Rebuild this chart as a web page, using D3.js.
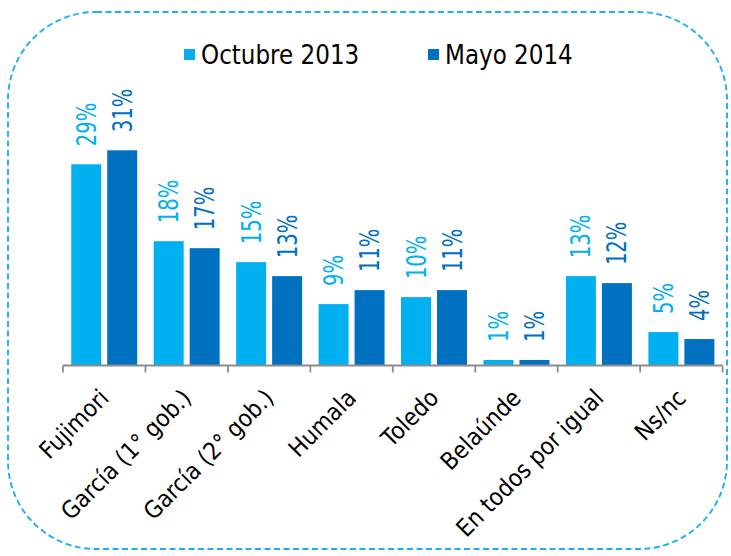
<!DOCTYPE html>
<html>
<head>
<meta charset="utf-8">
<script src="https://cdn.jsdelivr.net/npm/d3@7"></script>
<style>
  html, body { margin: 0; padding: 0; background: #ffffff; }
  svg { display: block; }
  text { font-family: "DejaVu Sans", Verdana, sans-serif; }
</style>
</head>
<body>
<svg id="chart" width="731" height="556"></svg>
<script>
// Preferred government by period (percent)
const categories = ["Fujimori", "García (1° gob.)", "García (2° gob.)", "Humala", "Toledo", "Belaúnde", "En todos por igual", "Ns/nc"];
const seriesNames = ["Octubre 2013", "Mayo 2014"];
const octubre2013 = [29, 18, 15, 9, 10, 1, 13, 5];
const mayo2014 = [31, 17, 13, 11, 11, 1, 12, 4];
const seriesColors = ["#00b0f0", "#0070c0"];

const svg = d3.select("#chart");

// Dashed rounded frame around the chart
svg.append("rect")
  .attr("x", 8).attr("y", 12)
  .attr("width", 719).attr("height", 537)
  .attr("rx", 88).attr("ry", 88)
  .attr("fill", "none")
  .attr("stroke", "#1cb1ec")
  .attr("stroke-width", 1.9)
  .attr("stroke-dasharray", "6,3.5");

const axisY = 365.5;
const x0 = d3.scaleBand().domain(categories).range([63, 722.6]).paddingInner(0).paddingOuter(0);
const x1 = d3.scaleBand().domain(seriesNames).range([0, x0.bandwidth()]).paddingInner(0.1667).paddingOuter(0.229);
const y = d3.scaleLinear().domain([0, 35]).range([367, 367 - 35 * 6.99]);

const rows = categories.map((c, i) => ({
  cat: c,
  values: [
    { s: seriesNames[0], v: octubre2013[i], color: seriesColors[0] },
    { s: seriesNames[1], v: mayo2014[i], color: seriesColors[1] }
  ]
}));

const groups = svg.append("g").selectAll("g")
  .data(rows).join("g")
  .attr("transform", d => `translate(${x0(d.cat)},0)`);

groups.selectAll("rect")
  .data(d => d.values).join("rect")
  .attr("x", d => x1(d.s))
  .attr("y", d => y(d.v))
  .attr("width", x1.bandwidth())
  .attr("height", d => axisY - y(d.v))
  .attr("fill", d => d.color);

// Rotated value labels above each bar
groups.selectAll("text.val")
  .data(d => d.values).join("text")
  .attr("class", "val")
  .attr("transform", d => `translate(${x1(d.s) + x1.bandwidth() / 2},${y(d.v) - 18}) rotate(-90) scale(0.74,1)`)
  .attr("dy", "0.36em")
  .attr("text-anchor", "start")
  .attr("font-size", 26.5)
  .attr("fill", d => d.color)
  .text(d => d.v + "%");

// Category axis: baseline, boundary ticks and slanted labels
const axis = svg.append("g").attr("transform", `translate(0,${axisY})`);
axis.append("line")
  .attr("x1", x0.range()[0]).attr("x2", x0.range()[1])
  .attr("y1", 0).attr("y2", 0)
  .attr("stroke", "#8c8c8c").attr("stroke-width", 1.8);

const edges = categories.map(c => x0(c)).concat([x0.range()[1]]);
axis.selectAll("line.tick")
  .data(edges).join("line")
  .attr("class", "tick")
  .attr("x1", d => d).attr("x2", d => d)
  .attr("y1", 0).attr("y2", 7)
  .attr("stroke", "#8c8c8c").attr("stroke-width", 1.8);

axis.selectAll("text.cat")
  .data(categories).join("text")
  .attr("class", "cat")
  .attr("transform", d => `translate(${x0(d) + x0.bandwidth() / 2 + 6},34) rotate(-45) scale(0.9,1)`)
  .attr("text-anchor", "end")
  .attr("font-size", 24)
  .attr("fill", "#000")
  .text(d => d);

// Legend
const legendX = [184, 428];
const legend = svg.append("g");
seriesNames.forEach((name, i) => {
  legend.append("rect")
    .attr("x", legendX[i]).attr("y", 49)
    .attr("width", 11).attr("height", 11)
    .attr("fill", seriesColors[i]);
  legend.append("text")
    .attr("transform", `translate(${legendX[i] + 17},63.5) scale(0.87,1)`)
    .attr("font-size", 26.5)
    .attr("fill", "#000")
    .text(name);
});
</script>
</body>
</html>
